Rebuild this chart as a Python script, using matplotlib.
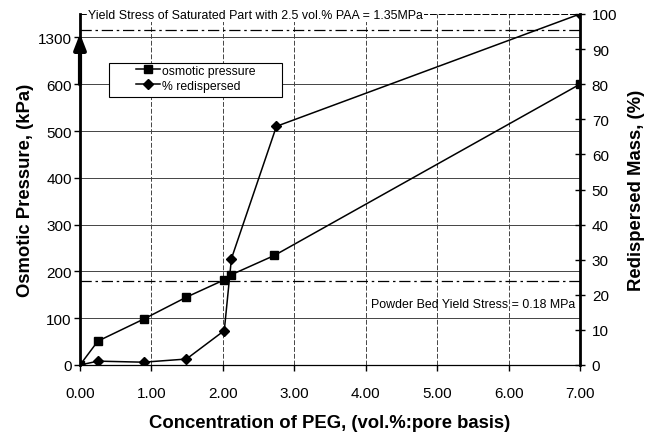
import matplotlib
matplotlib.use("Agg")
import matplotlib.pyplot as plt
from matplotlib.patches import Rectangle

plt.rcParams['font.family'] = ['Liberation Sans', 'DejaVu Sans']

# osmotic pressure series (kPa, left axis)
peg_osm = [0.0, 0.25, 0.89, 1.49, 2.02, 2.12, 2.72, 7.0]
osm_kpa = [0, 51, 98, 145, 182, 193, 234, 600]

# redispersed mass series (%, right axis)
peg_red = [0.0, 0.25, 0.89, 1.49, 2.02, 2.12, 2.75, 7.0]
red_pct = [0, 1.1, 0.8, 1.7, 9.8, 30.3, 68, 100]

x_ticks = [0, 1, 2, 3, 4, 5, 6, 7]
left_ticks = [0, 100, 200, 300, 400, 500, 600, 700]   # 700 is the broken-axis slot
left_labels = ['0', '100', '200', '300', '400', '500', '600', '1300']
right_ticks = list(range(0, 101, 10))

powder_bed_kpa = 180      # 0.18 MPa
saturated_pct = 95.5      # level of the 1.35 MPa line

fig = plt.figure(figsize=(6.59, 4.35), dpi=100)
fig.subplots_adjust(left=80/659, right=580/659, bottom=1-366/435, top=1-15/435)
ax = fig.add_subplot(111)
ax2 = ax.twinx()

ax.set_xlim(0, 7)
ax.set_ylim(0, 750)
ax2.set_ylim(0, 100)

# grid
ax.set_yticks(left_ticks)
ax.set_yticklabels(left_labels)
ax.set_xticks(x_ticks)
ax.set_xticklabels(['%.2f' % v for v in x_ticks])
for y in left_ticks[1:]:
    ax.axhline(y, color='#444444', lw=0.7, zorder=0)
for x in x_ticks[1:-1]:
    ax.axvline(x, color='#444444', lw=0.7, ls=(0, (5, 2)), zorder=0)

# reference lines
dashdot = (0, (9, 3, 2, 3))
ax.axhline(powder_bed_kpa, color='black', lw=0.9, ls=dashdot, zorder=1)
ax2.axhline(saturated_pct, color='black', lw=0.9, ls=dashdot, zorder=1)

# data
l1, = ax.plot(peg_osm, osm_kpa, color='black', lw=1.1, marker='s', ms=5.5,
              label='osmotic pressure', zorder=3)
l2, = ax2.plot(peg_red, red_pct, color='black', lw=1.1, marker='D', ms=5,
               label='% redispersed', zorder=3)

# axis break arrow 600 -> 1300
ax.annotate('', xy=(0, 708), xytext=(0, 600), annotation_clip=False,
            arrowprops=dict(arrowstyle='-|>,head_width=0.35,head_length=0.9',
                            color='black', lw=3, shrinkA=0, shrinkB=0))

# spines & ticks
ax.spines['left'].set_linewidth(2)
ax.spines['top'].set_linestyle((0, (6, 3)))
ax.spines['top'].set_linewidth(0.7)
ax.spines['bottom'].set_linewidth(0.9)
ax.spines['right'].set_visible(False)
ax2.spines['right'].set_linewidth(2)
for s in ['left', 'top', 'bottom']:
    ax2.spines[s].set_visible(False)

ax.tick_params(axis='y', direction='out', length=4, width=1, pad=2, labelsize=11)
ax.tick_params(axis='x', direction='out', length=4, width=1, pad=11, labelsize=11)
ax2.set_yticks(right_ticks)
ax2.tick_params(axis='y', direction='inout', length=7, width=1, pad=5, labelsize=11)

ax.set_xlabel('Concentration of PEG, (vol.%:pore basis)', fontsize=13.3,
              fontweight='bold', labelpad=10)
ax.set_ylabel('Osmotic Pressure, (kPa)', fontsize=13.3, fontweight='bold', labelpad=3)
ax2.set_ylabel('Redispersed Mass, (%)', fontsize=13.3, fontweight='bold', labelpad=8)

ax.text(0.016, 0.997, 'Yield Stress of Saturated Part with 2.5 vol.% PAA = 1.35MPa',
        transform=ax.transAxes, ha='left', va='center', fontsize=8.9,
        bbox=dict(facecolor='white', edgecolor='none', pad=1), zorder=5)
ax.text(0.99, 0.174, 'Powder Bed Yield Stress = 0.18 MPa', transform=ax.transAxes,
        ha='right', va='center', fontsize=8.9)

# legend: frame drawn as a box, entries from the plotted lines
ax2.add_patch(Rectangle((0.058, 0.7635), 0.346, 0.0965, transform=ax2.transAxes,
                        facecolor='white', edgecolor='black', lw=0.8, zorder=4))
leg = ax2.legend(handles=[l1, l2], loc='upper left', bbox_to_anchor=(0.112, 0.856),
                 frameon=False, handlelength=2.0, handletextpad=0.15, borderpad=0,
                 borderaxespad=0, labelspacing=0.25, prop={'size': 8.8})
leg.set_zorder(5)

fig.savefig('out.png', dpi=100)
